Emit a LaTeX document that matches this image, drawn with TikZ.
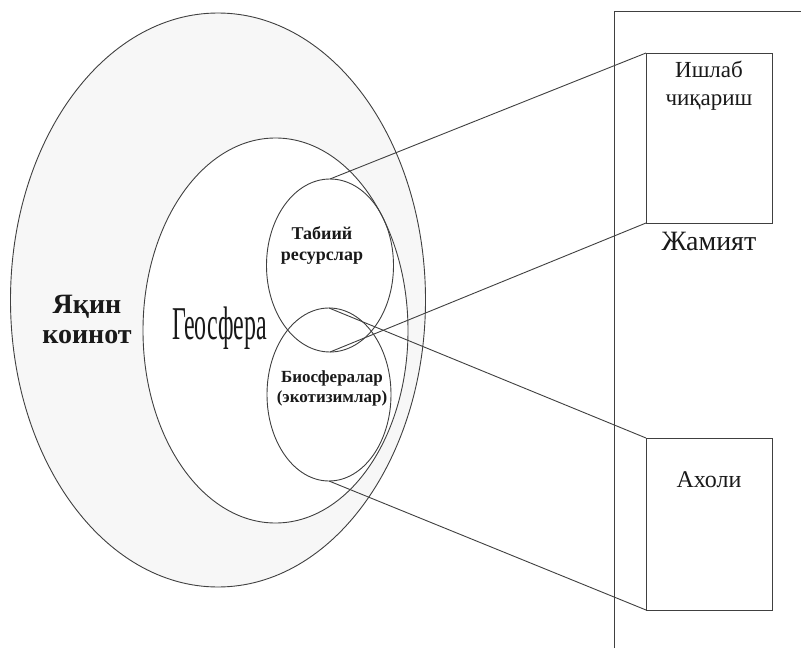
\documentclass[tikz,border=0pt]{standalone}
\usepackage{fontspec}
\setmainfont{LiberationSerif}[Extension=.ttf, UprightFont=*-Regular, BoldFont=*-Bold, ItalicFont=*-Italic, BoldItalicFont=*-BoldItalic]
\usetikzlibrary{shapes.geometric}
\begin{document}
\begin{tikzpicture}[x=1pt,y=-1pt,
  ln/.style={draw=black!75, line width=0.9pt},
  ell/.style={ellipse, ln, inner sep=0pt, outer sep=0pt},
  box/.style={rectangle, ln, fill=white, inner sep=0pt, outer sep=0pt, minimum width=126pt},
  lbl/.style={anchor=base, inner sep=0pt, text=black!90}]
\useasboundingbox[fill=white] (0,0) rectangle (801,650);
% ellipses
\node[ell, fill=black!3, minimum width=415pt, minimum height=574pt] (cosmos) at (218,300) {};
\node[ell, fill=white, minimum width=265pt, minimum height=385pt] (geo) at (275.5,330.5) {};
\node[ell, minimum width=127pt, minimum height=173pt] (res) at (330,265.5) {};
\node[ell, minimum width=124pt, minimum height=173pt] (bio) at (329,394.5) {};
% society frame
\coordinate (fb) at (614,648);
\coordinate (ft) at (614,11);
\coordinate (fr) at (801,11);
\draw[ln] (fb) -- (ft) -- (fr);
% boxes
\node[box, minimum height=170pt] (prod) at (709,138) {};
\node[box, minimum height=172pt] (pop) at (709,524) {};
% connectors
\draw[ln] (res.north) -- (prod.north west);
\draw[ln] (res.south) -- (prod.south west);
\draw[ln] (bio.north) -- (pop.north west);
\draw[ln] (bio.south) -- (pop.south west);
% labels
\node[lbl, font=\fontsize{28}{30}\selectfont\bfseries] (yak1) at (87,313) {Яқин};
\node[lbl, font=\fontsize{28}{30}\selectfont\bfseries] (yak2) at (87,343) {коинот};
\node[lbl, font=\fontsize{47}{50}\selectfont] (geol) at (219.5,339) {\scalebox{0.51}[1]{Геосфера}};
\node[lbl, font=\fontsize{18}{21}\selectfont\bfseries] (res1) at (322,239) {Табиий};
\node[lbl, font=\fontsize{18}{21}\selectfont\bfseries] (res2) at (322,260) {ресурслар};
\node[lbl, font=\fontsize{17}{20}\selectfont\bfseries] (bio1) at (332,382) {Биосфералар};
\node[lbl, font=\fontsize{17}{20}\selectfont\bfseries] (bio2) at (332,402) {(экотизимлар)};
\node[lbl, font=\fontsize{23}{28}\selectfont] (prod1) at (709,78) {Ишлаб};
\node[lbl, font=\fontsize{23}{28}\selectfont] (prod2) at (709,106) {чиқариш};
\node[lbl, font=\fontsize{28}{30}\selectfont] (soc) at (709,250) {Жамият};
\node[lbl, font=\fontsize{24}{28}\selectfont] (popl) at (709,487) {Ахоли};
\end{tikzpicture}
\end{document}
